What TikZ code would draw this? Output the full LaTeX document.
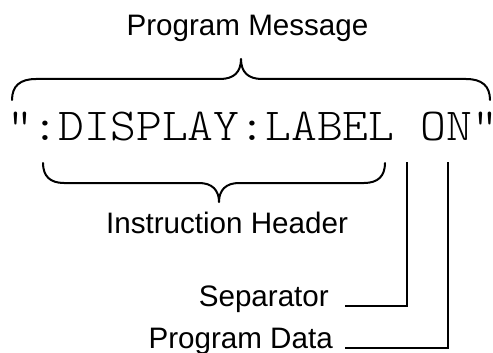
\documentclass[tikz,border=0pt]{standalone}
\usepackage{fontspec}
\setmainfont{Liberation Sans}
\setmonofont{Latin Modern Mono Light}
\begin{document}
\begin{tikzpicture}[x=1pt,y=-1pt,
  lbl/.style={inner sep=0pt,font=\fontsize{29.6}{32}\selectfont},
  brace/.style={line width=2pt,line cap=round,line join=round},
  conn/.style={line width=2pt}]
\useasboundingbox (0,0) rectangle (493,353);
% labels
\node[lbl,anchor=base] (pm) at (247.5,36) {Program Message};
\node[inner sep=0pt,anchor=base] (cmd) at (252.5,140)
  {\scalebox{1}[0.93]{\fontsize{49.2}{52}\selectfont\ttfamily\kern-7pt":DISPLAY:LABEL ON"\kern-7pt}};
\node[lbl,anchor=base] (ih) at (227,233) {Instruction Header};
\node[lbl,anchor=base east] (sep) at (329,306) {Separator};
\node[lbl,anchor=base east] (pd) at (333,348) {Program Data};
% upper brace
\draw[brace] (12,100) .. controls (12,86) and (20,79) .. (36,79)
  -- (220,79) .. controls (234,79) and (241,72) .. (241,59)
  .. controls (241,72) and (248,79) .. (262,79)
  -- (466,79) .. controls (482,79) and (490,86) .. (490,100);
% lower brace
\draw[brace] (43,163) .. controls (43,176) and (50,183) .. (64,183)
  -- (199,183) .. controls (212,183) and (219,190) .. (219,202)
  .. controls (219,190) and (226,183) .. (239,183)
  -- (364,183) .. controls (378,183) and (385,176) .. (385,163);
% connectors
\coordinate (septop) at (407,162);
\coordinate (pdtop) at (448,162);
\draw[conn] ([xshift=16pt]sep.base east) -| (septop);
\draw[conn] ([xshift=12pt]pd.base east) -| (pdtop);
\end{tikzpicture}
\end{document}
